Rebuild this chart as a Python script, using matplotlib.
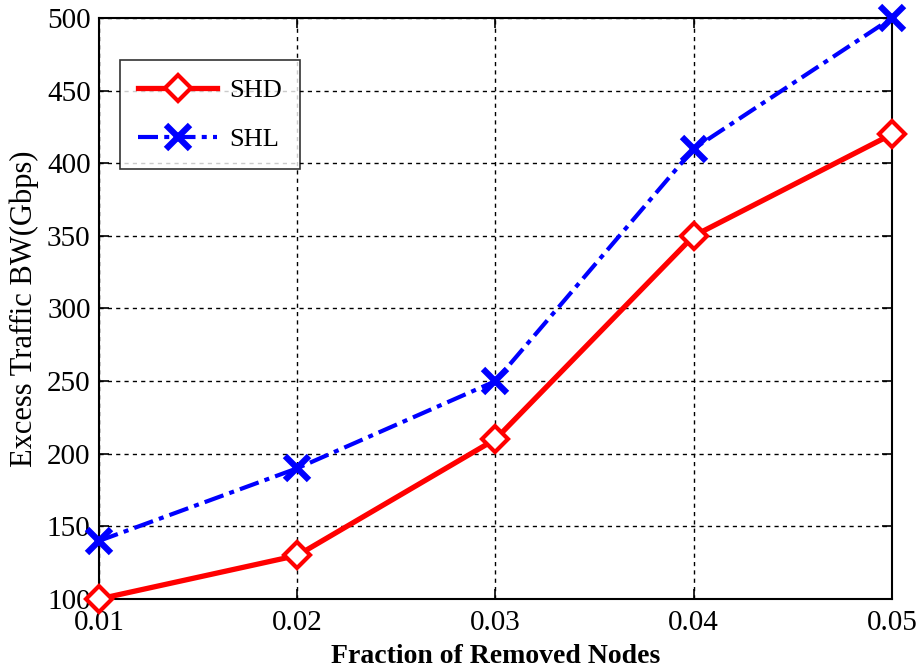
import matplotlib
matplotlib.use("Agg")
import matplotlib.pyplot as plt

plt.rcParams['font.family'] = ['Liberation Serif', 'DejaVu Serif']

fraction = [0.01, 0.02, 0.03, 0.04, 0.05]
shd = [100, 130, 210, 350, 420]
shl = [140, 190, 250, 410, 500]
x_ticks = [0.01, 0.02, 0.03, 0.04, 0.05]
x_ticklabels = ['0.01', '0.02', '0.03', '0.04', '0.05']
y_ticks = [100, 150, 200, 250, 300, 350, 400, 450, 500]

fig = plt.figure(figsize=(9.21, 6.71), dpi=100)
ax = fig.add_axes([0.1075, 0.1073, 0.8610, 0.8659])

ax.plot(fraction, shd, color='#ff0000', linewidth=3.8, marker='D',
        markersize=13, markerfacecolor='white', markeredgecolor='#ff0000',
        markeredgewidth=3, label='SHD', zorder=3, clip_on=False)
ax.plot(fraction, shl, color='#0000ff', linewidth=3, linestyle=(0, (4.8, 1.5, 1.2, 1.5)),
        marker='x', markersize=17, markeredgewidth=4.5, label='SHL', zorder=3,
        clip_on=False)

ax.set_xlim(0.01, 0.05)
ax.set_ylim(100, 500)
ax.set_xticks(x_ticks)
ax.set_xticklabels(x_ticklabels)
ax.set_yticks(y_ticks)

ax.grid(True, color='black', linestyle=(0, (3, 3)), linewidth=1)
ax.tick_params(direction='in', length=7, width=1.2, labelsize=21,
               top=True, right=True)
ax.tick_params(axis='x', pad=8)
ax.tick_params(axis='y', pad=6)
for s in ax.spines.values():
    s.set_linewidth(1.5)

ax.set_xlabel('Fraction of Removed Nodes', fontsize=20, fontweight='bold', labelpad=6)
ax.set_ylabel('Excess Traffic BW(Gbps)', fontsize=22, labelpad=6)

leg = ax.legend(loc='upper left', bbox_to_anchor=(0.026, 0.927), fontsize=19,
                frameon=True, fancybox=False, edgecolor='black', handlelength=3.0,
                borderpad=0.7, labelspacing=0.95, handletextpad=0.45,
                borderaxespad=0)
leg.get_frame().set_linewidth(1.2)

fig.savefig('out.png', dpi=100)
